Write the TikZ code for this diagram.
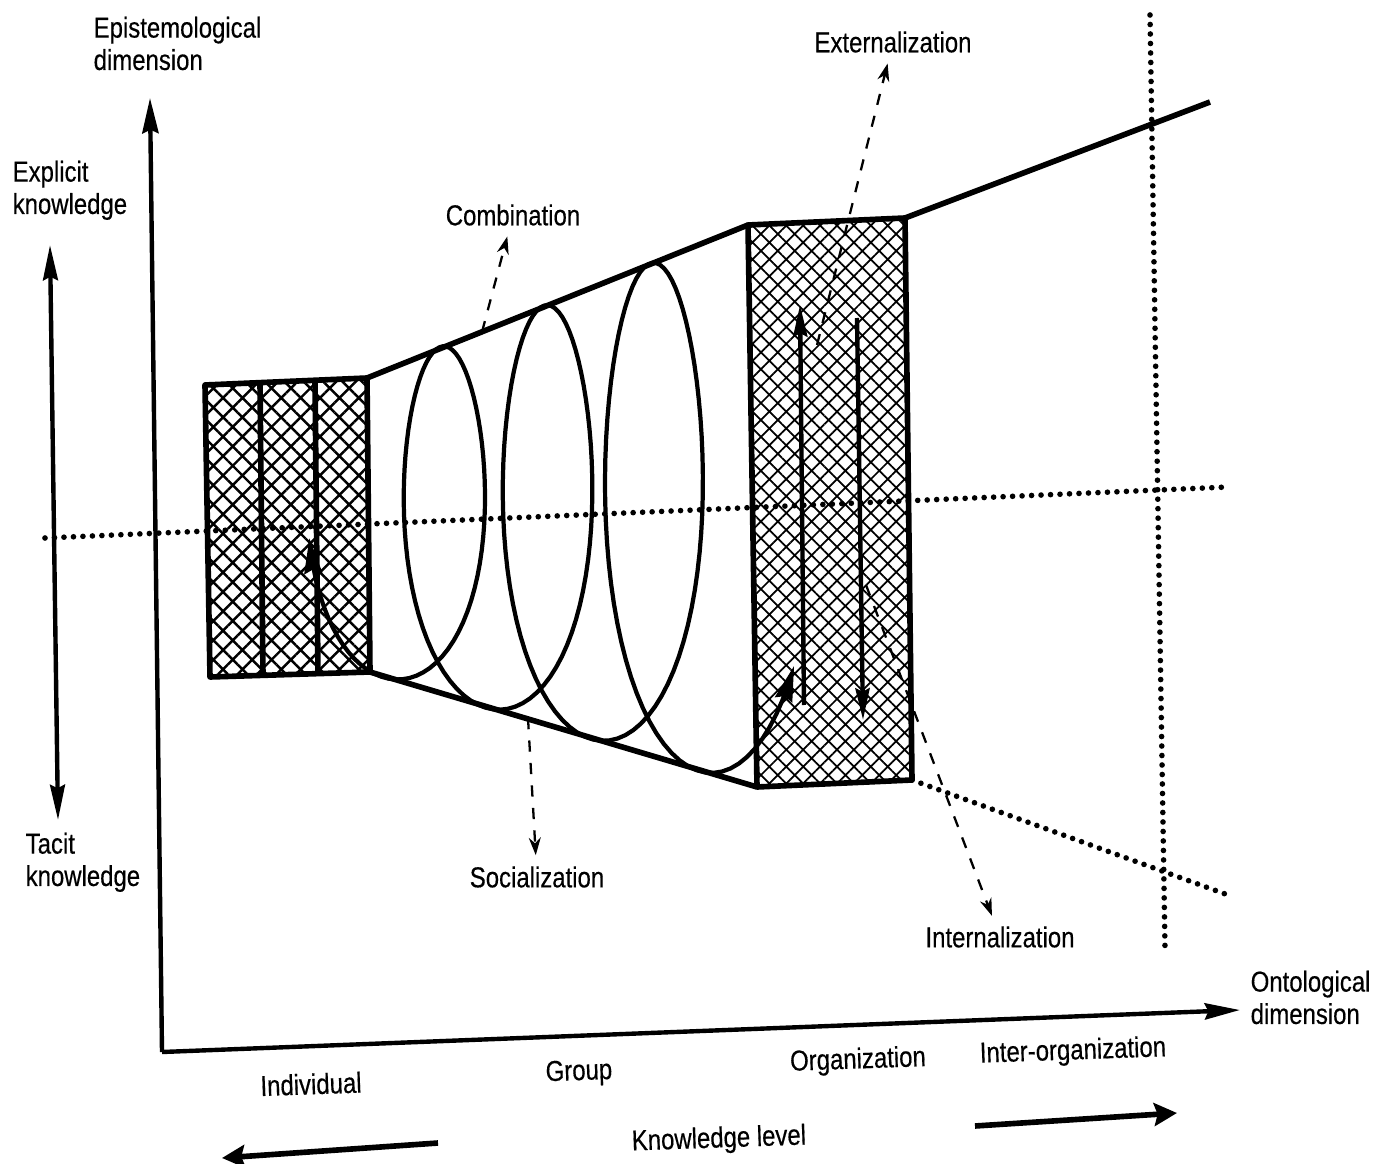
\documentclass[tikz,border=0pt]{standalone}
\usepackage{fontspec}
\setmainfont{Liberation Sans}[FakeStretch=0.83,FakeBold=0.4]
\usetikzlibrary{arrows.meta,patterns.meta}
\begin{document}
\begin{tikzpicture}[x=0.01cm,y=-0.01cm,
  lbl/.style={font=\fontsize{8.2}{9.2}\selectfont, inner sep=0pt, align=left},
  boxln/.style={line width=1.6pt, line join=round},
  axisln/.style={line width=1.25pt},
  bigtip/.style={-{Stealth[length=10pt,width=4.6pt,inset=1pt]}},
  dotln/.style={line width=1.6pt, line cap=round, dash pattern=on 0pt off 2.7pt},
  dashln/.style={line width=0.65pt, dash pattern=on 3.2pt off 3.2pt, -{Stealth[length=5pt,width=3.4pt]}, shorten >=3pt},
  spiral/.style={line width=1.2pt, {Stealth[length=10pt,width=5pt,inset=1pt]}-{Stealth[length=10pt,width=5pt,inset=1pt]}},
  hatchL/.style={pattern={Hatch[angle=45,distance=3.9pt,line width=0.7pt]}},
  hatchR/.style={pattern={Hatch[angle=45,distance=3.4pt,line width=0.5pt]}},
  declare function={
    uu(\s)=395+50*\s+0.4*\s*\s;
    rr(\s)=63+2.5*\s;
    ytp(\u)=378-0.3984*(\u-366);
    ybt(\u)=672+0.2972*(\u-370);
  }]
\useasboundingbox (0,0) rectangle (1394,1164);

% key points
\coordinate (O) at (162,1052);
\coordinate (Ytip) at (150,98);
\coordinate (Xtip) at (1240,1010);
\coordinate (EK) at (50,245);
\coordinate (TK) at (58,820);
\coordinate (LB1) at (205,385);
\coordinate (LB2) at (367,378);
\coordinate (LB3) at (370,672);
\coordinate (LB4) at (210,677);
\coordinate (D1t) at (260,383);
\coordinate (D1b) at (263,676);
\coordinate (D2t) at (315,381);
\coordinate (D2b) at (318,674);
\coordinate (RB1) at (748,225);
\coordinate (RB2) at (905,218);
\coordinate (RB3) at (912,780);
\coordinate (RB4) at (757,787);
\coordinate (TE) at (1210,102);
\coordinate (hL) at (45,538);
\coordinate (hR) at (1228,487);
\coordinate (vT) at (1150,15);
\coordinate (vB) at (1165,948);
\coordinate (lR) at (1228,895);
\coordinate (UA1) at (804,705);
\coordinate (UA2) at (800,305);
\coordinate (DA1) at (857,318);
\coordinate (DA2) at (863,720);
\coordinate (cS) at (482,332);
\coordinate (sS) at (528,718);
\coordinate (eS) at (817,345);
\coordinate (iS) at (866,585);
\coordinate (kl1) at (438,1143);
\coordinate (kl2) at (222,1158);
\coordinate (kr1) at (975,1126);
\coordinate (kr2) at (1177,1113);

% labels
\node[lbl, anchor=north west] (epi) at (93,16) {Epistemological\\dimension};
\node[lbl, anchor=north west] (expl) at (12,160) {Explicit\\knowledge};
\node[lbl, anchor=north west] (tac) at (25,832) {Tacit\\knowledge};
\node[lbl, anchor=north west] (onto) at (1250,970) {Ontological\\dimension};
\node[lbl] (comb) at (513,215) {Combination};
\node[lbl] (ext) at (893,42) {Externalization};
\node[lbl] (soc) at (537,877) {Socialization};
\node[lbl] (int) at (1000,937) {Internalization};
\node[lbl, rotate=2] (ind) at (311,1084) {Individual};
\node[lbl, rotate=2] (grp) at (579,1073) {Group};
\node[lbl, rotate=2] (org) at (858,1061) {Organization};
\node[lbl, rotate=2] (inter) at (1073,1052) {Inter-organization};
\node[lbl, rotate=2] (kl) at (719,1140) {Knowledge level};

% hatched boxes
\fill[hatchL] (LB1) -- (LB2) -- (LB3) -- (LB4) -- cycle;
\fill[hatchR] (RB1) -- (RB2) -- (RB3) -- (RB4) -- cycle;

% dotted guide lines
\draw[dotln] (hL) -- (hR);
\draw[dotln] (vT) -- (vB);
\draw[dotln] (RB3) -- (lR);

% axes
\draw[axisln, bigtip] (O) -- (Ytip);
\draw[axisln, bigtip] (O) -- (Xtip);
\draw[axisln, {Stealth[length=10pt,width=4.2pt,inset=1pt]}-{Stealth[length=10pt,width=4.2pt,inset=1pt]}] (EK) -- (TK);

% boxes and funnel
\draw[boxln] (LB1) -- (LB2) -- (LB3) -- (LB4) -- cycle;
\draw[boxln] (D1t) -- (D1b);
\draw[boxln] (D2t) -- (D2b);
\draw[boxln] (RB1) -- (RB2) -- (RB3) -- (RB4) -- cycle;
\draw[boxln] (LB2) -- (RB1);
\draw[boxln] (LB3) -- (RB4);
\draw[boxln] (RB2) -- (TE);

% spiral
\draw[spiral] plot[domain=-0.47:6.3, samples=260, variable=\s]
 ({uu(\s)+rr(\s)*sin(180*\s)*(1+0.12*cos(180*\s))}, {(ytp(uu(\s))+ybt(uu(\s)))/2 + (ybt(uu(\s))-ytp(uu(\s)))/2*cos(180*\s)});

% arrows in right box
\draw[line width=1.25pt, -{Stealth[length=9pt,width=4pt,inset=1pt]}] (UA1) -- (UA2);
\draw[line width=1.25pt, -{Stealth[length=9pt,width=4pt,inset=1pt]}] (DA1) -- (DA2);

% dashed pointers
\draw[dashln] (cS) -- (comb);
\draw[dashln] (sS) -- (soc);
\draw[dashln] (eS) -- (ext);
\draw[dashln] (iS) -- (int);

% knowledge level arrows
\draw[line width=1.6pt, -{Stealth[length=6.5pt,width=6.5pt,inset=1pt]}] (kl1) -- (kl2);
\draw[line width=1.6pt, -{Stealth[length=6.5pt,width=6.5pt,inset=1pt]}] (kr1) -- (kr2);
\end{tikzpicture}
\end{document}
